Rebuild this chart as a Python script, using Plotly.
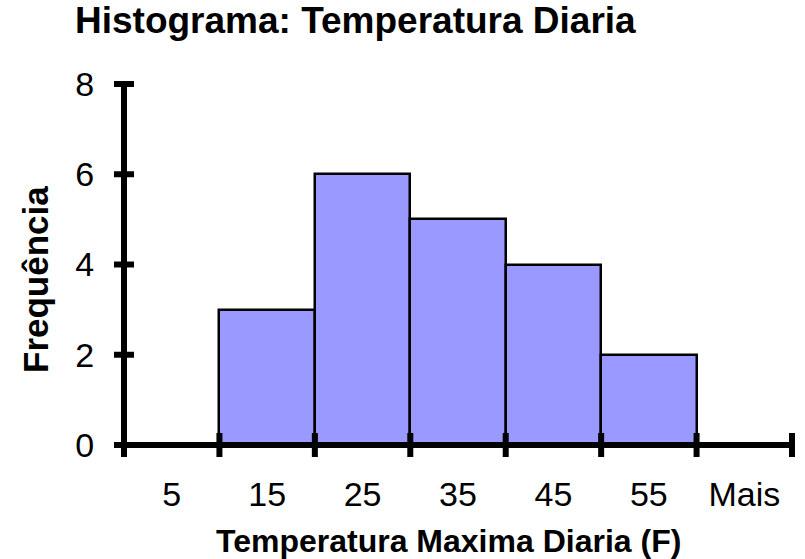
import plotly.graph_objects as go

# ---- data ----
categories = ["5", "15", "25", "35", "45", "55", "Mais"]
frequencies = [0, 3, 6, 5, 4, 2, 0]
y_ticks = [0, 2, 4, 6, 8]
y_max = 8

title_text = "Histograma: Temperatura Diaria"
x_title = "Temperatura Maxima Diaria (F)"
y_title = "Frequência"

FONT = "Liberation Sans, Arial, sans-serif"
W, H = 805, 559
L, R, T, B = 124, 13, 84, 114

fig = go.Figure()
fig.add_trace(go.Bar(
    x=categories, y=frequencies,
    marker=dict(color="#9999FF", line=dict(color="black", width=2.5)),
    hoverinfo="x+y",
))

n = len(categories)
shapes = []
# axis lines (paper refs so they are not clipped)
shapes.append(dict(type="line", xref="paper", yref="paper", x0=0, x1=1, y0=0, y1=0,
                   line=dict(color="black", width=6), layer="above"))
shapes.append(dict(type="line", xref="paper", yref="paper", x0=0, x1=0, y0=0, y1=1,
                   line=dict(color="black", width=6), layer="above"))
# crossing tick marks on x axis at category boundaries
for i in range(n + 1):
    shapes.append(dict(type="line", xref="paper", yref="paper", ysizemode="pixel", yanchor=0,
                       x0=i / n, x1=i / n, y0=-12, y1=12,
                       line=dict(color="black", width=6), layer="above"))
# crossing tick marks on y axis
for v in y_ticks:
    shapes.append(dict(type="line", xref="paper", yref="paper", xsizemode="pixel", xanchor=0,
                       x0=-10, x1=10, y0=v / y_max, y1=v / y_max,
                       line=dict(color="black", width=6), layer="above"))

fig.update_layout(
    width=W, height=H,
    margin=dict(l=L, r=R, t=T, b=B, pad=0),
    paper_bgcolor="white", plot_bgcolor="white",
    showlegend=False,
    bargap=0,
    font=dict(family=FONT, color="black", size=34),
    title=dict(text="<b>" + title_text + "</b>", x=75 / W, xref="container", xanchor="left",
               y=1 - 20.5 / H, yref="container", yanchor="middle",
               font=dict(family=FONT, size=37, color="black")),
    xaxis=dict(type="category", categoryorder="array", categoryarray=categories,
               range=[-0.5, n - 0.5],
               showgrid=False, zeroline=False, showline=False,
               ticks="outside", ticklen=19, tickcolor="rgba(0,0,0,0)",
               tickfont=dict(family=FONT, size=34, color="black")),
    yaxis=dict(range=[0, y_max], tickvals=y_ticks,
               showgrid=False, zeroline=False, showline=False,
               ticks="outside", ticklen=22, tickcolor="rgba(0,0,0,0)",
               tickfont=dict(family=FONT, size=34, color="black")),
    shapes=shapes,
    annotations=[
        dict(text="<b>" + x_title + "</b>", xref="paper", yref="paper",
             x=(448 - L) / (W - L - R), y=0, xanchor="center", yanchor="middle",
             yshift=-(541 - (H - B)), showarrow=False,
             font=dict(family=FONT, size=32, color="black")),
        dict(text="<b>" + y_title + "</b>", xref="paper", yref="paper",
             x=0, y=(H - B - 280) / (H - B - T), xanchor="center", yanchor="middle",
             xshift=35 - L, textangle=-90, showarrow=False,
             font=dict(family=FONT, size=35, color="black")),
    ],
)

fig.write_html("out.html")
